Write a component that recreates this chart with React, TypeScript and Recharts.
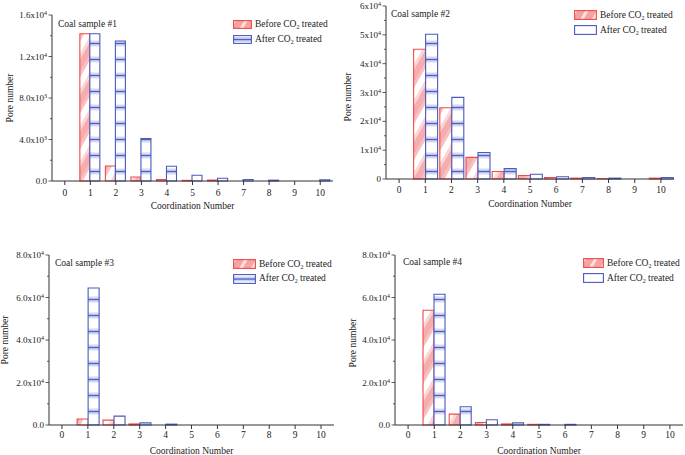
import { Bar, BarChart, XAxis, YAxis } from "recharts";

const FONT = '"Liberation Serif", "Times New Roman", serif';
const INK = "#222";
const AXIS = "#333";
const RED = "#ef4b4b";
const BLUE = "#4a5abd";

// coordination numbers on the x axis
const coordination = ["0", "1", "2", "3", "4", "5", "6", "7", "8", "9", "10"];

// pore counts
const before1 = [0, 14200, 1450, 380, 150, 60, 90, 0, 0, 0, 0];
const after1 = [0, 14200, 13500, 4080, 1420, 560, 260, 150, 80, 0, 120];
const before2 = [0, 45000, 24700, 7500, 2600, 1200, 500, 300, 100, 0, 300];
const after2 = [0, 50200, 28300, 9200, 3600, 1650, 800, 500, 300, 0, 500];
const before3 = [0, 2800, 2300, 500, 0, 0, 0, 0, 0, 0, 0];
const after3 = [0, 64500, 4200, 1000, 400, 0, 0, 0, 0, 0, 0];
const before4 = [0, 54000, 5100, 1200, 500, 300, 0, 0, 0, 0, 0];
const after4 = [0, 61500, 8600, 2500, 1000, 300, 300, 0, 0, 0, 0];

// y ticks (major + labels, minor)
const major1 = [0, 4000, 8000, 12000, 16000];
const labels1 = ["0.0", "4.0x10^3", "8.0x10^3", "1.2x10^4", "1.6x10^4"];
const minor1 = [2000, 6000, 10000, 14000];
const major2 = [0, 10000, 20000, 30000, 40000, 50000, 60000];
const labels2 = ["0", "1x10^4", "2x10^4", "3x10^4", "4x10^4", "5x10^4", "6x10^4"];
const minor2 = [5000, 15000, 25000, 35000, 45000, 55000];
const major34 = [0, 20000, 40000, 60000, 80000];
const labels34 = ["0.0", "2.0x10^4", "4.0x10^4", "6.0x10^4", "8.0x10^4"];
const minor34 = [10000, 30000, 50000, 70000];

type Cfg = {
  id: string;
  title: string;
  before: number[];
  after: number[];
  major: number[];
  labels: string[];
  minor: number[];
  left: number;
  top: number;
  width: number;
  height: number;
  margin: { top: number; right: number; left: number; bottom: number };
  yw: number;
  xh: number;
  gap: string;
  xTickMargin: number;
  yTitleX: number;
  yTitleY: number;
  xTitleY: number;
  titlePos: [number, number];
  legendPos: [number, number];
  swatch: [number, number];
  rowGap: number;
  stripedLegend: boolean;
};

const panels: Cfg[] = [
  {
    id: "p1", title: "Coal sample #1", before: before1, after: after1,
    major: major1, labels: labels1, minor: minor1,
    left: 0, top: 0, width: 340, height: 215,
    margin: { top: 15, right: 7, left: 0, bottom: 0 }, yw: 52, xh: 34, gap: "9%", xTickMargin: 4,
    yTitleX: 10, yTitleY: 98, xTitleY: 206,
    titlePos: [58, 19], legendPos: [233, 20], swatch: [19, 9], rowGap: 14.5, stripedLegend: true,
  },
  {
    id: "p2", title: "Coal sample #2", before: before2, after: after2,
    major: major2, labels: labels2, minor: minor2,
    left: 340, top: 0, width: 345, height: 215,
    margin: { top: 6, right: 11, left: 0, bottom: 0 }, yw: 46, xh: 36, gap: "5.5%", xTickMargin: 3,
    yTitleX: 8, yTitleY: 97, xTitleY: 204,
    titlePos: [51, 9], legendPos: [234, 10], swatch: [23, 10], rowGap: 15, stripedLegend: false,
  },
  {
    id: "p3", title: "Coal sample #3", before: before3, after: after3,
    major: major34, labels: labels34, minor: minor34,
    left: 0, top: 240, width: 340, height: 215,
    margin: { top: 15, right: 6, left: 0, bottom: 0 }, yw: 49, xh: 30, gap: "8.5%", xTickMargin: 2,
    yTitleX: 5, yTitleY: 100, xTitleY: 211,
    titlePos: [55, 18], legendPos: [233, 19], swatch: [23, 10], rowGap: 14.5, stripedLegend: true,
  },
  {
    id: "p4", title: "Coal sample #4", before: before4, after: after4,
    major: major34, labels: labels34, minor: minor34,
    left: 340, top: 240, width: 345, height: 215,
    margin: { top: 15, right: 2, left: 0, bottom: 0 }, yw: 55, xh: 30, gap: "7%", xTickMargin: 2,
    yTitleX: 13, yTitleY: 103, xTitleY: 211,
    titlePos: [63, 17], legendPos: [243, 18], swatch: [21, 10], rowGap: 15, stripedLegend: false,
  },
];

const Patterns = ({ id }: { id: string }) => (
  <defs>
    <pattern id={`red-${id}`} patternUnits="userSpaceOnUse" width="18" height="18" patternTransform="rotate(-60)">
      <rect width="18" height="18" fill="#f6adad" />
      <rect y="0" width="18" height="6" fill="#ffffff" />
      <rect y="6" width="18" height="3" fill="#fbd6d6" />
      <rect y="15" width="18" height="3" fill="#f8c0c0" />
    </pattern>
    <pattern id={`blue-${id}`} patternUnits="userSpaceOnUse" width="12" height="16">
      <rect width="12" height="16" fill="#ffffff" />
      <rect y="8.5" width="12" height="6" fill="#d6daf3" />
      <rect y="10" width="12" height="3" fill="#b8c0ea" />
      <rect y="11" width="12" height="1" fill="#4f60c0" />
    </pattern>
  </defs>
);

const splitLabel = (s: string) => {
  const [base, exp] = s.split("^");
  return { base, exp };
};

const YTick = (props: any) => {
  const { y, payload, axisX, major, labels } = props;
  const idx = major.indexOf(payload.value);
  const isMajor = idx >= 0;
  const lab = isMajor ? splitLabel(labels[idx]) : null;
  return (
    <g>
      <line x1={axisX - (isMajor ? 3.5 : 2)} x2={axisX} y1={y} y2={y} stroke={AXIS} strokeWidth={0.8} />
      {lab && (
        <text x={axisX - 5} y={y} dy="0.35em" textAnchor="end" fontFamily={FONT} fontSize={9} fill={INK}>
          {lab.base}
          {lab.exp && (
            <tspan dy="-0.5em" fontSize={6}>
              {lab.exp}
            </tspan>
          )}
        </text>
      )}
    </g>
  );
};

const Swatch = ({ kind, w, h, id, striped }: { kind: "red" | "blue"; w: number; h: number; id: string; striped: boolean }) => (
  <svg width={w} height={h} style={{ display: "block" }}>
    <defs>
      <pattern id={`lr-${id}`} patternUnits="userSpaceOnUse" width="10" height="10" patternTransform="rotate(-60)">
        <rect width="10" height="10" fill="#f5a3a3" />
        <rect width="10" height="3" fill="#fde0e0" />
      </pattern>
      <pattern id={`lb-${id}`} patternUnits="userSpaceOnUse" width="10" height={h}>
        <rect width="10" height={h} fill="#fff" />
        <rect y={h / 2 - 2.5} width="10" height="5" fill="#cdd2f0" />
        <rect y={h / 2 - 0.6} width="10" height="1.3" fill="#4f60c0" />
      </pattern>
    </defs>
    <rect
      x={0.6}
      y={0.6}
      width={w - 1.2}
      height={h - 1.2}
      fill={kind === "red" ? `url(#lr-${id})` : striped ? `url(#lb-${id})` : "#fff"}
      stroke={kind === "red" ? RED : BLUE}
      strokeWidth={1.1}
    />
  </svg>
);

const Panel = ({ cfg }: { cfg: Cfg }) => {
  const data = coordination.map((c, i) => ({ c, before: cfg.before[i], after: cfg.after[i] }));
  const axisX = cfg.margin.left + cfg.yw;
  const ticks = [...cfg.major, ...cfg.minor].sort((a, b) => a - b);
  const yMax = cfg.major[cfg.major.length - 1];
  const textStyle = { fontFamily: FONT, fontSize: 9.5, color: INK, lineHeight: "10px", whiteSpace: "nowrap" as const };
  return (
    <div style={{ position: "absolute", left: cfg.left, top: cfg.top, width: cfg.width, height: cfg.height }}>
      <BarChart width={cfg.width} height={cfg.height} data={data} margin={cfg.margin} barCategoryGap={cfg.gap} barGap={0}>
        <Patterns id={cfg.id} />
        <XAxis
          dataKey="c"
          height={cfg.xh}
          interval={0}
          stroke={AXIS}
          tickSize={4}
          tickMargin={cfg.xTickMargin}
          tick={{ fill: INK, fontSize: 9.5, fontFamily: FONT }}
          label={(p: any) => (
            <text
              x={p.viewBox.x + p.viewBox.width / 2}
              y={cfg.xTitleY}
              dy="0.35em"
              textAnchor="middle"
              fontFamily={FONT}
              fontSize={9.5}
              fill={INK}
            >
              Coordination Number
            </text>
          )}
        />
        <YAxis
          type="number"
          domain={[0, yMax]}
          ticks={ticks}
          interval={0}
          width={cfg.yw}
          stroke={AXIS}
          tickLine={false}
          tick={<YTick axisX={axisX} major={cfg.major} labels={cfg.labels} />}
          label={() => (
            <text
              x={cfg.yTitleX}
              y={cfg.yTitleY}
              dy="0.35em"
              transform={`rotate(-90 ${cfg.yTitleX} ${cfg.yTitleY})`}
              textAnchor="middle"
              fontFamily={FONT}
              fontSize={9.5}
              fill={INK}
            >
              Pore number
            </text>
          )}
        />
        <Bar dataKey="before" fill={`url(#red-${cfg.id})`} stroke={RED} strokeWidth={1.1} isAnimationActive={false} />
        <Bar dataKey="after" fill={`url(#blue-${cfg.id})`} stroke={BLUE} strokeWidth={1.1} isAnimationActive={false} />
      </BarChart>
      <div style={{ ...textStyle, position: "absolute", left: cfg.titlePos[0], top: cfg.titlePos[1] }}>{cfg.title}</div>
      <div style={{ ...textStyle, position: "absolute", left: cfg.legendPos[0], top: cfg.legendPos[1] }}>
        {(["red", "blue"] as const).map((k, i) => (
          <div
            key={k}
            style={{ display: "flex", alignItems: "center", height: cfg.swatch[1], marginBottom: i === 0 ? cfg.rowGap - cfg.swatch[1] : 0 }}
          >
            <Swatch kind={k} w={cfg.swatch[0]} h={cfg.swatch[1]} id={`${cfg.id}${k}`} striped={cfg.stripedLegend} />
            <span style={{ marginLeft: 3 }}>
              {k === "red" ? "Before" : "After"} CO
              <span style={{ fontSize: 6, position: "relative", top: 2 }}>2</span> treated
            </span>
          </div>
        ))}
      </div>
    </div>
  );
};

export default function App() {
  return (
    <div style={{ position: "absolute", left: 0, top: 0, width: 685, height: 455, background: "#fff", overflow: "hidden" }}>
      {panels.map((p) => (
        <Panel key={p.id} cfg={p} />
      ))}
    </div>
  );
}
